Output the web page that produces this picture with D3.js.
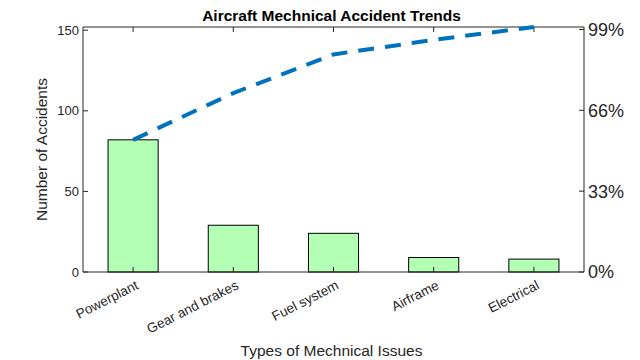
<!DOCTYPE html>
<html><head><meta charset="utf-8">
<script src="https://cdn.jsdelivr.net/npm/d3@7"></script>
<style>body{margin:0;background:#fff}svg{display:block;font-family:"Liberation Sans",Arial,Helvetica,sans-serif}</style>
</head><body><svg id="c" width="640" height="360"></svg>
<script>
const categories = ["Powerplant","Gear and brakes","Fuel system","Airframe","Electrical"];
const counts = [82, 29, 24, 9, 8];
const leftTicks = [0, 50, 100, 150];
const pctTicks = [0, 33, 66, 99];

const svg = d3.select("#c");
const L = 83, R = 584, T = 27, B = 272;
const total = d3.sum(counts);
const cum = d3.cumsum(counts);

const x = d3.scaleLinear().domain([0.5, categories.length + 0.5]).range([L, R]);
const y = d3.scaleLinear().domain([0, total]).range([B, T]);
const yp = d3.scaleLinear().domain([0, 100]).range([B, T]);
const bw = (x(1) - x(0)) * 0.5;

// bars
svg.append("g").selectAll("rect").data(counts).join("rect")
  .attr("x", (d,i) => x(i+1) - bw/2).attr("y", d => y(d))
  .attr("width", bw).attr("height", d => B - y(d))
  .attr("fill", "#b3ffb3").attr("stroke", "#000").attr("stroke-width", 1);

// box
svg.append("path").attr("d", `M${L},${T}H${R}V${B}H${L}Z`).attr("fill","none").attr("stroke","#262626").attr("stroke-width",1);

// x ticks bottom/top
const gt = svg.append("g").attr("stroke","#262626");
categories.forEach((c,i) => {
  const xi = x(i+1);
  gt.append("line").attr("x1",xi).attr("x2",xi).attr("y1",B).attr("y2",B-5);
  gt.append("line").attr("x1",xi).attr("x2",xi).attr("y1",T).attr("y2",T+5);
});
// left ticks
leftTicks.forEach(v => {
  gt.append("line").attr("x1",L).attr("x2",L+5).attr("y1",y(v)).attr("y2",y(v));
});
// right ticks
pctTicks.forEach(v => {
  gt.append("line").attr("x1",R).attr("x2",R-5).attr("y1",yp(v)).attr("y2",yp(v));
});

// left tick labels
svg.append("g").selectAll("text").data(leftTicks).join("text")
  .attr("x", L-4).attr("y", d => y(d)).attr("dy","0.35em")
  .attr("text-anchor","end").attr("font-size",13).attr("fill","#262626").text(d => d);
// right tick labels
svg.append("g").selectAll("text").data(pctTicks).join("text")
  .attr("x", R+4).attr("y", d => yp(d)).attr("dy","0.36em")
  .attr("text-anchor","start").attr("font-size",18).attr("fill","#262626").text(d => d + "%");

// x tick labels rotated
svg.append("g").selectAll("text").data(categories).join("text")
  .attr("transform", (d,i) => `translate(${x(i+1)+4},${B+12}) rotate(-27)`)
  .attr("text-anchor","end").attr("dy","0.35em")
  .attr("font-size",13.5).attr("fill","#262626").text(d => d);

// cumulative line
const line = d3.line().x((d,i) => x(i+1)).y(d => y(d));
svg.append("path").datum(cum).attr("d", line)
  .attr("fill","none").attr("stroke","#0072BD").attr("stroke-width",4)
  .attr("stroke-dasharray","16,11");

// title and labels
svg.append("text").attr("x", (L+R)/2 - 2).attr("y", 21).attr("text-anchor","middle")
  .attr("font-size",15.5).attr("font-weight","bold").attr("fill","#000").text("Aircraft Mechnical Accident Trends");
svg.append("text").attr("x", (L+R)/2 - 2).attr("y", 356).attr("text-anchor","middle")
  .attr("font-size",15.5).attr("fill","#262626").text("Types of Mechnical Issues");
svg.append("text").attr("transform", `translate(47,${(T+B)/2}) rotate(-90)`).attr("text-anchor","middle")
  .attr("font-size",15.5).attr("fill","#262626").text("Number of Accidents");
</script></body></html>
